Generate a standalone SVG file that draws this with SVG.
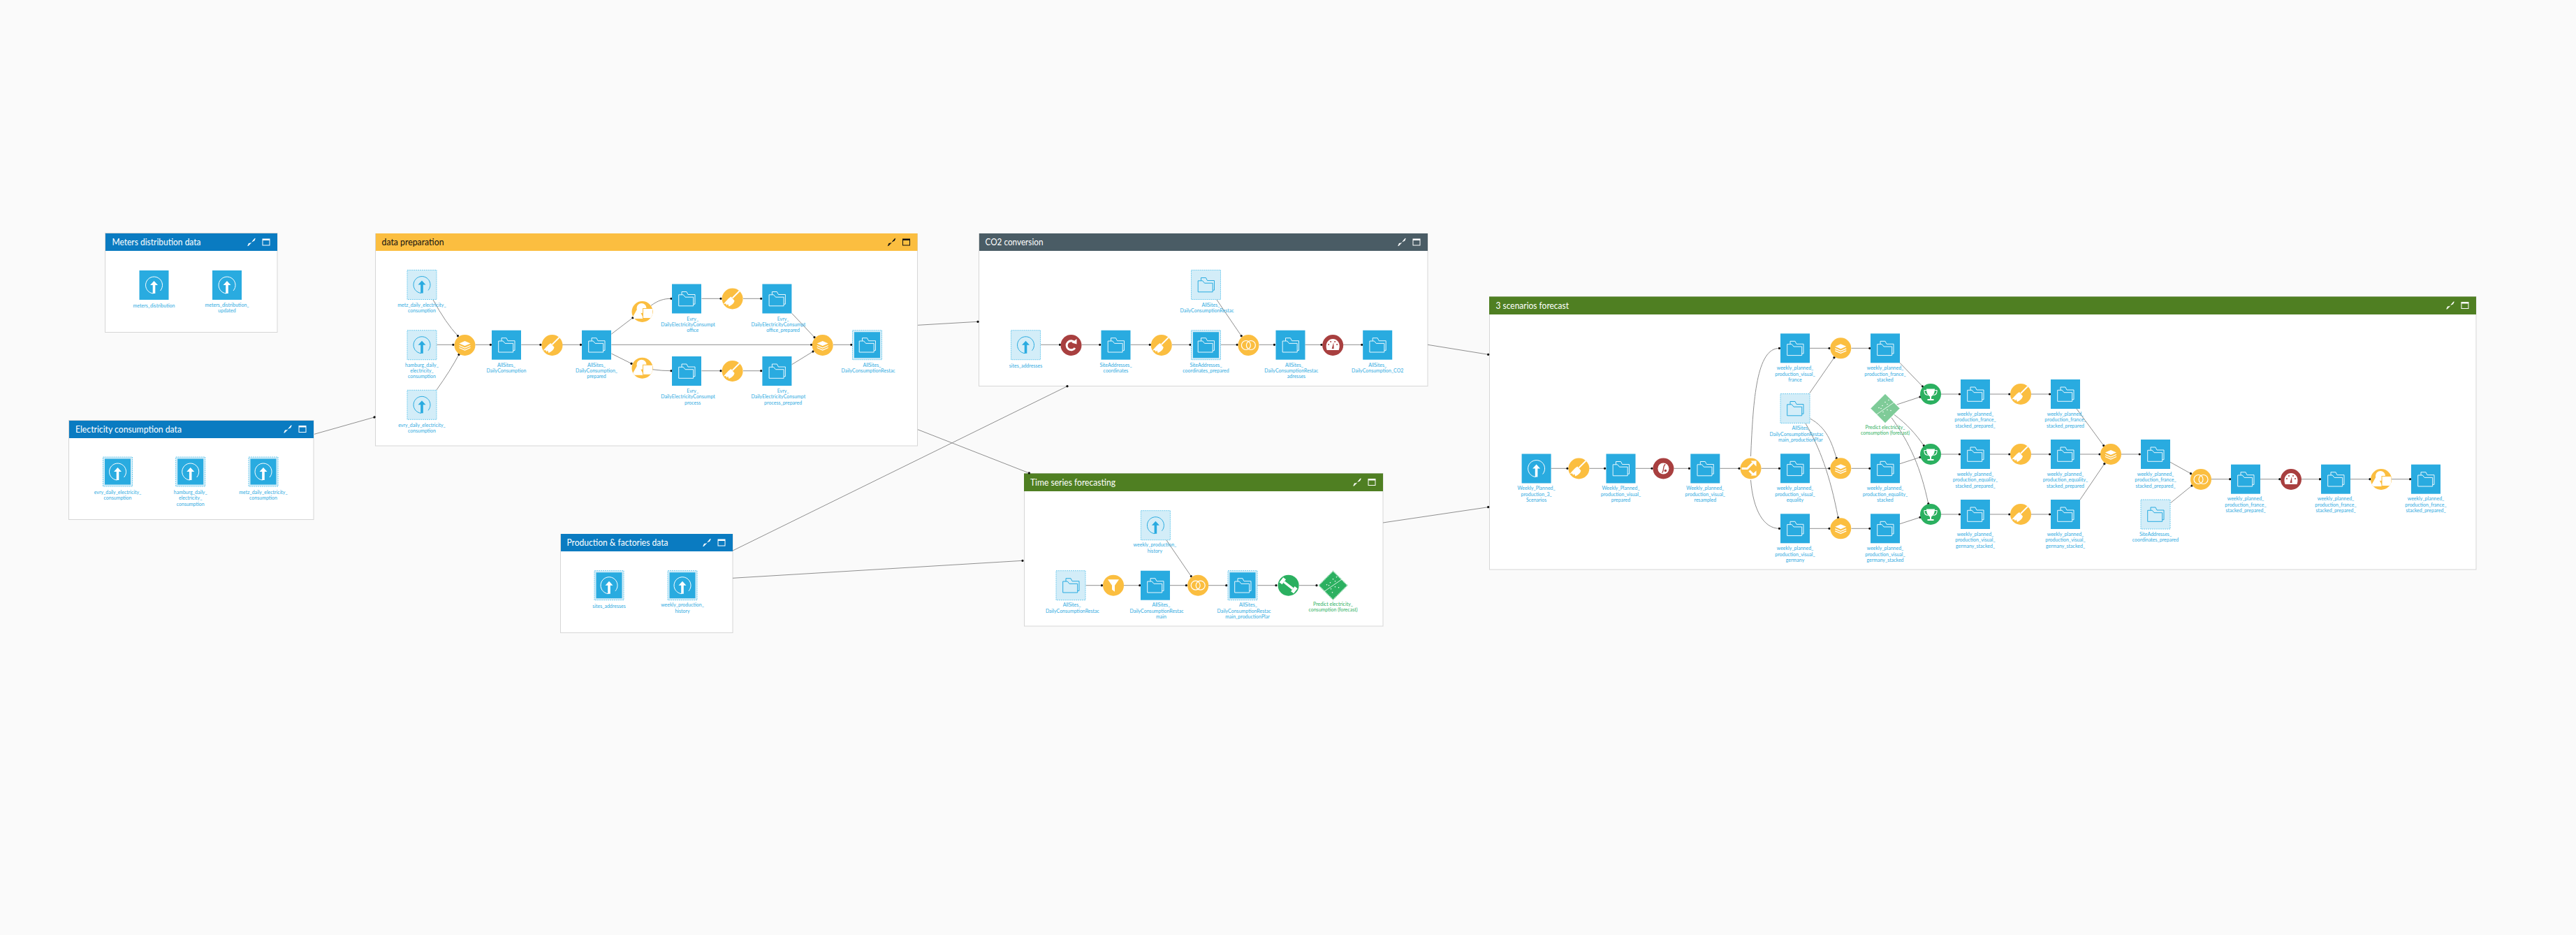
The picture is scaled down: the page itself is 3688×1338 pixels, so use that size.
<svg xmlns="http://www.w3.org/2000/svg" width="3688" height="1338" viewBox="0 0 3688 1338">
<style>
.f{fill:#fff;stroke:#d6d6d6;stroke-width:1}
.t{font:12.6px Lato,"Liberation Sans",sans-serif;fill:#fff}
.k{fill:#111}
.l{font:7px Lato,"Liberation Sans",sans-serif;fill:#2fabdf;text-anchor:middle}
.g{font:7px Lato,"Liberation Sans",sans-serif;fill:#2fb163;text-anchor:middle}
.c{fill:none;stroke:#8f8f8f;stroke-width:1;marker-end:url(#d)}
.o{fill:#fbbe40}.r{fill:#a83f3f}.e{fill:#2bb060}
.s{fill:none;stroke:currentColor;stroke-width:1}
.w{fill:#fff}
</style>
<defs>
<marker id="d" viewBox="-2 -2 4 4" refX="0" refY="0" markerWidth="4" markerHeight="4" markerUnits="userSpaceOnUse" orient="auto"><circle r="1.6" fill="#111"/></marker>
<g id="i-folder" class="s"><path d="M-7 -5.7V-10H0L2 -6H12V7.7H9.7"/><path d="M-11.3 -5.7H-4.7L-2 -2.3H9.7V10.3H-11.3Z"/></g>
<g id="i-upload"><path class="s" stroke-width="1.2" d="M-1 12A12 12 0 1 1 9 8"/><path fill="currentColor" d="M0 -6L5.5 0H1.8V12H-1.8V0H-5.5Z"/></g>
<g id="df"><rect x="-21" y="-21" width="42" height="42" fill="#29abe0"/><use href="#i-folder" color="#e9f7fd"/></g>
<g id="du"><rect x="-21" y="-21" width="42" height="42" fill="#29abe0"/><use href="#i-upload" color="#fff"/></g>
<g id="sframe"><rect x="-21" y="-21" width="42" height="42" fill="#d3edf8" stroke="#74ccee" stroke-dasharray="2 1"/><rect x="-18.5" y="-18.5" width="37" height="37" fill="#29abe0"/></g>
<g id="sf"><use href="#sframe"/><use href="#i-folder" color="#e9f7fd"/></g>
<g id="su"><use href="#sframe"/><use href="#i-upload" color="#fff"/></g>
<g id="lframe"><rect x="-21" y="-21" width="42" height="42" fill="#d3edf8" stroke="#74ccee" stroke-dasharray="2 1"/></g>
<g id="lf"><use href="#lframe"/><use href="#i-folder" color="#29abe0"/></g>
<g id="lu"><use href="#lframe"/><use href="#i-upload" color="#29abe0"/></g>
<g id="r-stack"><circle r="15" class="o"/><path class="w" d="M0 -6L8 -2.5L0 1L-8 -2.5Z"/><path d="M-8 0.5L0 4L8 0.5M-8 3.5L0 7L8 3.5" fill="none" stroke="#fff" stroke-width="1.3"/></g>
<g id="r-broom"><circle r="15" class="o"/><path d="M10 -11L0 -1" stroke="#fff" stroke-width="1.8"/><path class="w" d="M-2 -3L3 3C2 7 -1 9 -5 11L-6.5 7.5L-8 9.5L-9.500 7L-13 7.500C-10 5 -7 0 -2 -3Z"/></g>
<g id="r-join"><circle r="15" class="o"/><g fill="none" stroke="#fff" stroke-width="1.2"><circle cx="-3.500" r="6.500"/><circle cx="3.500" r="6.500"/></g></g>
<g id="r-funnel"><circle r="15" class="o"/><path class="w" d="M-8 -8.500H8L2 0V9L-2 6V0Z"/></g>
<clipPath id="cc"><circle r="15"/></clipPath>
<g id="r-shape"><circle r="15" class="o"/><g clip-path="url(#cc)"><circle cx="-1" cy="-5" r="7" class="w"/><path class="w" d="M-15 10L-6 -6L2 10Z"/><rect x="1" y="-4.500" width="14" height="14" class="w" stroke="#fbbe40" stroke-width="1"/></g></g>
<g id="r-split"><circle r="15" class="o"/><path d="M-13 0H-5L3 -8M-2 3L4 9" fill="none" stroke="#fff" stroke-width="3"/><path class="w" d="M0 -11H8V-3ZM0 10H8V3Z"/></g>
<g id="r-refresh"><circle r="15" class="r"/><path d="M5 -4A6.500 6.500 0 1 0 5.500 4" fill="none" stroke="#fff" stroke-width="3"/><path class="w" d="M1 -3.500L8 -9V-1.500Z"/></g>
<g id="r-gauge"><circle r="15" class="r"/><path class="w" d="M-8.500 7C-12 -3 -6 -9 0 -9S12 -3 8.500 7Z"/><g class="r"><circle cx="-6" cy="-1" r="1"/><circle cx="-3" cy="-5" r="1"/><circle cx="3" cy="-5" r="1"/><circle cx="6" cy="-1" r="1"/><path d="M-1.500 5L1 -4L1.500 5Z"/></g></g>
<g id="r-resample"><circle r="15" class="r"/><circle r="8" class="w"/><path d="M-2 6C1 5 -1 -5 3 -6" fill="none" stroke="#a83f3f" stroke-width="1.300"/><circle cx="3" cy="3" r="1.800" class="r"/></g>
<g id="r-trophy"><circle r="15" class="e"/><path class="w" d="M-6 -7.500H6C6 -2 4 2 1 3.500V7H4.500V9H-4.500V7H-1V3.500C-4 2 -6 -2 -6 -7.500Z"/><path d="M-6 -5.500H-9C-9.500 -1 -7 1 -4 1.500M6 -5.500H9C9.500 -1 7 1 4 1.500" fill="none" stroke="#fff" stroke-width="1.100"/></g>
<g id="r-dumb"><circle r="15" class="e"/><g transform="rotate(38)" class="w"><rect x="-8" y="-1.700" width="16" height="3.400"/><rect x="-13" y="-4.500" width="5" height="9"/><rect x="8" y="-4.500" width="5" height="9"/></g></g>
<g id="m-dots"><path d="M-13 9L13 -9" stroke="#fff" stroke-width="0.800" fill="none"/><g class="w"><circle cx="-9" cy="-1" r=".8"/><circle cx="-4" cy="-4" r=".8"/><circle cx="0" cy="-9" r=".8"/><circle cx="5" cy="-12" r=".8"/><circle cx="3" cy="-6" r=".8"/><circle cx="-3" cy="5" r=".8"/><circle cx="3" cy="2" r=".8"/><circle cx="8" cy="3" r=".8"/><circle cx="-1" cy="10" r=".8"/><circle cx="-6" cy="0" r=".8"/></g></g>
<g id="m-dark"><path d="M0 -20.500L20.500 0L0 20.500L-20.500 0Z" fill="#2bb060" stroke="#a6dfbc" stroke-dasharray="2 1" stroke-width="1.500"/><use href="#m-dots"/></g>
<g id="m-light"><path d="M0 -20.500L20.500 0L0 20.500L-20.500 0Z" fill="#7fcb98" stroke="#a6dfbc" stroke-width="1"/><use href="#m-dots"/></g>
<g id="h-w"><path d="M-5 -5L-1 -1.500M-2.500 1L1.500 -3" fill="none"/><path fill="currentColor" d="M1 -1L6 -6L4 -1.500ZM-1 1L-6 6L-4 1.500Z"/><path fill="currentColor" d="M0.500 -0.500L4.500 -5.500L5.500 -4.500L1 0ZM-0.500 .5L-5.500 5L-4.500 5.500L0 1Z"/><g transform="translate(21,0)"><rect x="-5" y="-4.500" width="10" height="9" fill="none" stroke="currentColor"/><rect x="-5" y="-4.500" width="10" height="2" fill="currentColor"/></g></g>
</defs>
<rect width="3688" height="1338" fill="#fafafa"/>

<g id="frame-meters"><rect class="f" x="150.500" y="333.500" width="246.500" height="142"/><rect x="151" y="334" width="246" height="25" fill="#0a7bc1"/><text class="t" x="160.500" y="351" textLength="127" lengthAdjust="spacingAndGlyphs">Meters distribution data</text><use href="#h-w" x="360" y="346.500" color="#fff"/></g>
<g id="frame-electricity"><rect class="f" x="98.500" y="601.500" width="350.500" height="142"/><rect x="99" y="602" width="350" height="25" fill="#0a7bc1"/><text class="t" x="108" y="619" textLength="152" lengthAdjust="spacingAndGlyphs">Electricity consumption data</text><use href="#h-w" x="412" y="614" color="#fff"/></g>
<g id="frame-prep"><rect class="f" x="537.500" y="334.500" width="776" height="303.500"/><rect x="538" y="334" width="775.500" height="25" fill="#fbbe40"/><text class="t k" x="546.500" y="351" textLength="89" lengthAdjust="spacingAndGlyphs">data preparation</text><use href="#h-w" x="1276.500" y="346.500" color="#111"/></g>
<g id="frame-co2"><rect class="f" x="1401.500" y="334.500" width="642.500" height="218"/><rect x="1402" y="334" width="642" height="25" fill="#4a5c65"/><text class="t" x="1410.500" y="351" textLength="83" lengthAdjust="spacingAndGlyphs">CO2 conversion</text><use href="#h-w" x="2007" y="346.500" color="#fff"/></g>
<g id="frame-production"><rect class="f" x="802.500" y="764.500" width="246.500" height="141"/><rect x="803" y="764" width="246" height="25" fill="#0a7bc1"/><text class="t" x="811.500" y="781" textLength="145" lengthAdjust="spacingAndGlyphs">Production &amp; factories data</text><use href="#h-w" x="1012" y="776.500" color="#fff"/></g>
<g id="frame-ts"><rect class="f" x="1466.500" y="677.500" width="513.500" height="218.500"/><rect x="1466" y="677.500" width="514" height="25.500" fill="#4f7f22"/><text class="t" x="1475" y="695" textLength="122" lengthAdjust="spacingAndGlyphs">Time series forecasting</text><use href="#h-w" x="1943" y="690" color="#fff"/></g>
<g id="frame-scen"><rect class="f" x="2132.500" y="424.500" width="1412.500" height="390.500"/><rect x="2132" y="424.500" width="1413" height="25.500" fill="#4f7f22"/><text class="t" x="2141.500" y="442" textLength="104.500" lengthAdjust="spacingAndGlyphs">3 scenarios forecast</text><use href="#h-w" x="3508" y="437" color="#fff"/></g>

<g id="connectors">
<path class="c" d="M450 621.300L536 597"/>
<path class="c" d="M1314 465.300L1400 460.300"/>
<path class="c" d="M1314 614.700L1473.400 677"/>
<path class="c" d="M1049 788L1528 552.700"/>
<path class="c" d="M1049 827.300L1464 802.300"/>
<path class="c" d="M2044 493.300L2130.700 507.300"/>
<path class="c" d="M1980 748L2130.700 725.700"/>
<path class="c" d="M620 429Q638 462 655.500 480.700"/>
<path class="c" d="M625.400 493.300H648.900"/>
<path class="c" d="M625 558Q645 530 657 507.300"/>
<path class="c" d="M680.500 493.300H702.400"/>
<path class="c" d="M746.300 493.300H773.900"/>
<path class="c" d="M805 493.300H831.500"/>
<path class="c" d="M875.400 478L906 454.700"/>
<path class="c" d="M875.400 506L904 520.300"/>
<path class="c" d="M932 437.300C942 430 950 427.300 961 427.300"/>
<path class="c" d="M934 528.700Q948 530.700 961 530.700"/>
<path class="c" d="M1004.500 427.300H1032"/>
<path class="c" d="M1064 427.300H1089.700"/>
<path class="c" d="M1004.500 530.700H1032"/>
<path class="c" d="M1064 530.700H1089.700"/>
<path class="c" d="M1133.600 448.300L1166 482.700"/>
<path class="c" d="M1133.600 521.700L1164 503"/>
<path class="c" d="M875.400 493.300H1161.600"/>
<path class="c" d="M1193 493.300H1218.800"/>
<path class="c" d="M1742 429L1777.200 480.700"/>
<path class="c" d="M1490 493.300H1517.500"/>
<path class="c" d="M1548.500 493.300H1574.700"/>
<path class="c" d="M1618.500 493.300H1646.300"/>
<path class="c" d="M1678 493.300H1704"/>
<path class="c" d="M1747.500 493.300H1771.200"/>
<path class="c" d="M1802.500 493.300H1824.500"/>
<path class="c" d="M1868.500 493.300H1892"/>
<path class="c" d="M1923 493.300H1949.800"/>
<path class="c" d="M1670 773L1705.300 824.700"/>
<path class="c" d="M1554.500 837.700H1577.500"/>
<path class="c" d="M1609 837.700H1631.800"/>
<path class="c" d="M1675 837.700H1698.400"/>
<path class="c" d="M1730 837.700H1755.800"/>
<path class="c" d="M1800 837.700H1827"/>
<path class="c" d="M1860 837.700H1885"/>
<path class="c" d="M2220.600 670.300H2244"/>
<path class="c" d="M2275.500 670.300H2297.600"/>
<path class="c" d="M2341.500 670.300H2365"/>
<path class="c" d="M2396.500 670.300H2418.500"/>
<path class="c" d="M2462.300 670.300H2490"/>
<path class="c" d="M2521.500 670.300H2547.500"/>
<path class="c" d="M2506.500 653C2510 570 2515 498.300 2547.500 498.300"/>
<path class="c" d="M2506.500 687C2510 730 2525 756.300 2547.500 756.300"/>
<path class="c" d="M2591 498.300H2619"/>
<path class="c" d="M2591 670.300H2619"/>
<path class="c" d="M2591 756.300H2619"/>
<path class="c" d="M2650.500 498.300H2676.800"/>
<path class="c" d="M2650.500 670.300H2676.800"/>
<path class="c" d="M2650.500 756.300H2676.800"/>
<path class="c" d="M2590.700 562.700L2626 511.700"/>
<path class="c" d="M2591.500 599C2615 612 2622 632 2629.300 655.700"/>
<path class="c" d="M2585 606C2605 640 2620 680 2631.600 740.700"/>
<path class="c" d="M2720 519.300L2752.500 553"/>
<path class="c" d="M2715.700 579L2749 568"/>
<path class="c" d="M2711.800 593.300C2730 607 2742 620 2754.300 637.700"/>
<path class="c" d="M2708 597.700C2735 635 2750 670 2760.700 720.700"/>
<path class="c" d="M2720 663.700L2749 654.300"/>
<path class="c" d="M2720 749.700L2749 740.300"/>
<path class="c" d="M2779 564H2805.400"/><path class="c" d="M2849 564H2876.800"/><path class="c" d="M2908 564H2934.600"/>
<path class="c" d="M2779 650H2805.400"/><path class="c" d="M2849 650H2876.800"/><path class="c" d="M2908 650H2934.600"/>
<path class="c" d="M2779 736H2805.400"/><path class="c" d="M2849 736H2876.800"/><path class="c" d="M2908 736H2934.600"/>
<path class="c" d="M2973 585L3011.800 637.700"/>
<path class="c" d="M2978 650H3006"/>
<path class="c" d="M2978 715L3012.900 663.700"/>
<path class="c" d="M3037 650H3063.200"/>
<path class="c" d="M3107 661.300L3136.500 677.700"/>
<path class="c" d="M3107.600 719.700L3138 695"/>
<path class="c" d="M3166 685.700H3192.700"/>
<path class="c" d="M3236 685.700H3263.800"/>
<path class="c" d="M3295 685.700H3321.500"/>
<path class="c" d="M3365 685.700H3393"/>
<path class="c" d="M3424 685.700H3450.600"/>
</g>

<g id="n-meters1" transform="translate(220.500,408)"><use href="#du"/><text class="l" y="32.200">meters_distribution</text></g>
<g id="n-meters2" transform="translate(325,408)"><use href="#du"/><text class="l"><tspan x="0" y="31.200">meters_distribution_</tspan><tspan x="0" y="39.200">updated</tspan></text></g>
<g id="n-evry" transform="translate(168.500,675)"><use href="#su"/><text class="l"><tspan x="0" y="31.500">evry_daily_electricity_</tspan><tspan x="0" y="39.500">consumption</tspan></text></g>
<g id="n-hamburg" transform="translate(272.700,675)"><use href="#su"/><text class="l"><tspan x="0" y="31.500">hamburg_daily_</tspan><tspan x="0" y="39.500">electricity_</tspan><tspan x="0" y="48.500">consumption</tspan></text></g>
<g id="n-metz" transform="translate(377,675)"><use href="#su"/><text class="l"><tspan x="0" y="31.500">metz_daily_electricity_</tspan><tspan x="0" y="39.500">consumption</tspan></text></g>
<g id="n-p-metz" transform="translate(604,407.500)"><use href="#lu"/><text class="l"><tspan x="0" y="31.700">metz_daily_electricity_</tspan><tspan x="0" y="39.700">consumption</tspan></text></g>
<g id="n-p-hamburg" transform="translate(604,493.700)"><use href="#lu"/><text class="l"><tspan x="0" y="31.500">hamburg_daily_</tspan><tspan x="0" y="39.500">electricity_</tspan><tspan x="0" y="47.500">consumption</tspan></text></g>
<g id="n-p-evry" transform="translate(604,579.300)"><use href="#lu"/><text class="l"><tspan x="0" y="31.900">evry_daily_electricity_</tspan><tspan x="0" y="39.900">consumption</tspan></text></g>
<use id="n-p-stack1" href="#r-stack" x="665.500" y="494"/>
<g id="n-p-all" transform="translate(725,493.700)"><use href="#df"/><text class="l"><tspan x="0" y="31.500">AllSites_</tspan><tspan x="0" y="39.500">DailyConsumption</tspan></text></g>
<use id="n-p-broom1" href="#r-broom" x="790.500" y="494"/>
<g id="n-p-prepared" transform="translate(854,493.700)"><use href="#df"/><text class="l"><tspan x="0" y="31.500">AllSites_</tspan><tspan x="0" y="39.500">DailyConsumption_</tspan><tspan x="0" y="47.500">prepared</tspan></text></g>
<use id="n-p-shape1" href="#r-shape" x="919.500" y="446"/>
<use id="n-p-shape2" href="#r-shape" x="919.500" y="526.700"/>
<g id="n-p-office" transform="translate(983,427.500)"><use href="#df"/><text class="l"><tspan x="8.700" y="31">Evry_</tspan><tspan x="2" y="39.500">DailyElectricityConsumpt</tspan><tspan x="8.700" y="47.500">office</tspan></text></g>
<use id="n-p-broom2" href="#r-broom" x="1048.600" y="427.500"/>
<g id="n-p-office2" transform="translate(1112.400,427.500)"><use href="#df"/><text class="l"><tspan x="8.700" y="31">Evry_</tspan><tspan x="2" y="39.500">DailyElectricityConsumpt</tspan><tspan x="8.700" y="47.500">office_prepared</tspan></text></g>
<g id="n-p-process" transform="translate(983,531)"><use href="#df"/><text class="l"><tspan x="8.700" y="31.200">Evry_</tspan><tspan x="2" y="39.200">DailyElectricityConsumpt</tspan><tspan x="8.700" y="48.200">process</tspan></text></g>
<use id="n-p-broom3" href="#r-broom" x="1048.600" y="531"/>
<g id="n-p-process2" transform="translate(1112.400,531)"><use href="#df"/><text class="l"><tspan x="8.700" y="31.200">Evry_</tspan><tspan x="2" y="39.200">DailyElectricityConsumpt</tspan><tspan x="8.700" y="48.200">process_prepared</tspan></text></g>
<use id="n-p-stack2" href="#r-stack" x="1177.700" y="494"/>
<g id="n-p-restac" transform="translate(1241.500,493.700)"><use href="#sf"/><text class="l"><tspan x="7" y="31.500">AllSites_</tspan><tspan x="1.500" y="39.500">DailyConsumptionRestac</tspan></text></g>

<g id="n-c-restac" transform="translate(1726.500,407.500)"><use href="#lf"/><text class="l"><tspan x="7" y="31.700">AllSites_</tspan><tspan x="1.500" y="39.700">DailyConsumptionRestac</tspan></text></g>
<g id="n-c-sites" transform="translate(1468.500,493.700)"><use href="#lu"/><text class="l" y="32.500">sites_addresses</text></g>
<use id="n-c-refresh" href="#r-refresh" x="1533.500" y="494"/>
<g id="n-c-coord" transform="translate(1597.500,493.700)"><use href="#df"/><text class="l"><tspan x="0" y="31.500">SiteAddresses_</tspan><tspan x="0" y="39.500">coordinates</tspan></text></g>
<use id="n-c-broom" href="#r-broom" x="1662.800" y="494"/>
<g id="n-c-coordp" transform="translate(1726.500,493.700)"><use href="#sf"/><text class="l"><tspan x="0" y="31.500">SiteAddresses_</tspan><tspan x="0" y="39.500">coordinates_prepared</tspan></text></g>
<use id="n-c-join" href="#r-join" x="1787.400" y="494"/>
<g id="n-c-adr" transform="translate(1847.500,493.700)"><use href="#df"/><text class="l"><tspan x="5.500" y="31.500">AllSites_</tspan><tspan x="1.300" y="39.500">DailyConsumptionRestac</tspan><tspan x="8.500" y="47.500">adresses</tspan></text></g>
<use id="n-c-gauge" href="#r-gauge" x="1908.200" y="494"/>
<g id="n-c-co2" transform="translate(1972.200,493.700)"><use href="#df"/><text class="l"><tspan x="0" y="31.500">AllSites_</tspan><tspan x="0" y="39.500">DailyConsumption_CO2</tspan></text></g>

<g id="n-f-sites" transform="translate(872,837.700)"><use href="#su"/><text class="l" y="32.500">sites_addresses</text></g>
<g id="n-f-weekly" transform="translate(977,837.700)"><use href="#su"/><text class="l"><tspan x="0" y="30.800">weekly_production_</tspan><tspan x="0" y="39.800">history</tspan></text></g>

<g id="n-t-hist" transform="translate(1654.400,751.700)"><use href="#lu"/><text class="l"><tspan x="-1" y="30.800">weekly_production_</tspan><tspan x="-1" y="39.800">history</tspan></text></g>
<g id="n-t-restac" transform="translate(1533,837.700)"><use href="#lf"/><text class="l"><tspan x="1.600" y="30.500">AllSites_</tspan><tspan x="2.400" y="39.500">DailyConsumptionRestac</tspan></text></g>
<use id="n-t-funnel" href="#r-funnel" x="1594" y="837.700"/>
<g id="n-t-main" transform="translate(1654,837.700)"><use href="#df"/><text class="l"><tspan x="8.400" y="30.500">AllSites_</tspan><tspan x="2" y="39.500">DailyConsumptionRestac</tspan><tspan x="8.400" y="47.500">main</tspan></text></g>
<use id="n-t-join" href="#r-join" x="1715.200" y="837.700"/>
<g id="n-t-plan" transform="translate(1779,837.700)"><use href="#sf"/><text class="l"><tspan x="8" y="30.500">AllSites_</tspan><tspan x="2" y="39.500">DailyConsumptionRestac</tspan><tspan x="7" y="47.500">main_productionPlar</tspan></text></g>
<use id="n-t-dumb" href="#r-dumb" x="1844.600" y="837.700"/>
<g id="n-t-model" transform="translate(1908.500,837.700)"><use href="#m-dark"/><text class="g"><tspan x="0" y="29.500">Predict electricity_</tspan><tspan x="0" y="37.500">consumption (forecast)</tspan></text></g>

<g id="n-s-plan3" transform="translate(2199.600,670.500)"><use href="#du"/><text class="l"><tspan x="0" y="30.700">Weekly_Planned_</tspan><tspan x="0" y="39.700">production_3_</tspan><tspan x="0" y="47.700">Scenarios</tspan></text></g>
<use id="n-s-broom0" href="#r-broom" x="2260.400" y="670.500"/>
<g id="n-s-vis" transform="translate(2320.500,670.500)"><use href="#df"/><text class="l"><tspan x="0" y="30.700">Weekly_Planned_</tspan><tspan x="0" y="39.700">production_visual_</tspan><tspan x="0" y="47.700">prepared</tspan></text></g>
<use id="n-s-res" href="#r-resample" x="2381.400" y="670.500"/>
<g id="n-s-resampled" transform="translate(2441.300,670.500)"><use href="#df"/><text class="l"><tspan x="0" y="30.700">Weekly_planned_</tspan><tspan x="0" y="39.700">production_visual_</tspan><tspan x="0" y="47.700">resampled</tspan></text></g>
<use id="n-s-split" href="#r-split" x="2506.500" y="670.500"/>
<g id="n-s-fr" transform="translate(2570,498.300)"><use href="#df"/><text class="l"><tspan x="0" y="30.900">weekly_planned_</tspan><tspan x="0" y="39.900">production_visual_</tspan><tspan x="0" y="47.900">france</tspan></text></g>
<g id="n-s-main" transform="translate(2570,584.500)"><use href="#lf"/><text class="l"><tspan x="8.500" y="30.700">AllSites_</tspan><tspan x="2" y="39.700">DailyConsumptionRestac</tspan><tspan x="7.700" y="47.700">main_productionPlar</tspan></text></g>
<g id="n-s-eq" transform="translate(2570,670.300)"><use href="#df"/><text class="l"><tspan x="0" y="30.900">weekly_planned_</tspan><tspan x="0" y="39.900">production_visual_</tspan><tspan x="0" y="47.900">equality</tspan></text></g>
<g id="n-s-ge" transform="translate(2570,756.300)"><use href="#df"/><text class="l"><tspan x="0" y="30.900">weekly_planned_</tspan><tspan x="0" y="39.900">production_visual_</tspan><tspan x="0" y="48.200">germany</tspan></text></g>
<use id="n-s-st1" href="#r-stack" x="2635.300" y="498.300"/>
<use id="n-s-st2" href="#r-stack" x="2635.300" y="670.300"/>
<use id="n-s-st3" href="#r-stack" x="2635.300" y="756.300"/>
<g id="n-s-frs" transform="translate(2699,498.300)"><use href="#df"/><text class="l"><tspan x="0" y="30.900">weekly_planned_</tspan><tspan x="0" y="39.900">production_france_</tspan><tspan x="0" y="47.900">stacked</tspan></text></g>
<g id="n-s-model" transform="translate(2699,584.500)"><use href="#m-light"/><text class="g"><tspan x="0" y="29.300">Predict electricity_</tspan><tspan x="0" y="37.700">consumption (forecast)</tspan></text></g>
<g id="n-s-eqs" transform="translate(2699,670.300)"><use href="#df"/><text class="l"><tspan x="0" y="30.900">weekly_planned_</tspan><tspan x="0" y="39.900">production_equality_</tspan><tspan x="0" y="47.900">stacked</tspan></text></g>
<g id="n-s-ges" transform="translate(2699,756.300)"><use href="#df"/><text class="l"><tspan x="0" y="30.900">weekly_planned_</tspan><tspan x="0" y="39.900">production_visual_</tspan><tspan x="0" y="48.200">germany_stacked</tspan></text></g>
<use id="n-s-tr1" href="#r-trophy" x="2764" y="564"/>
<use id="n-s-tr2" href="#r-trophy" x="2764" y="650"/>
<use id="n-s-tr3" href="#r-trophy" x="2764" y="736"/>
<g id="n-s-a1" transform="translate(2828,564)"><use href="#df"/><text class="l"><tspan x="0" y="31.200">weekly_planned_</tspan><tspan x="0" y="39.200">production_france_</tspan><tspan x="0" y="48.200">stacked_prepared_</tspan></text></g>
<g id="n-s-a2" transform="translate(2828,650)"><use href="#df"/><text class="l"><tspan x="0" y="31.200">weekly_planned_</tspan><tspan x="0" y="39.200">production_equality_</tspan><tspan x="0" y="48.200">stacked_prepared_</tspan></text></g>
<g id="n-s-a3" transform="translate(2828,736)"><use href="#df"/><text class="l"><tspan x="0" y="31.200">weekly_planned_</tspan><tspan x="0" y="39.200">production_visual_</tspan><tspan x="0" y="48.200">germany_stacked_</tspan></text></g>
<use id="n-s-br1" href="#r-broom" x="2893" y="564"/>
<use id="n-s-br2" href="#r-broom" x="2893" y="650"/>
<use id="n-s-br3" href="#r-broom" x="2893" y="736"/>
<g id="n-s-b1" transform="translate(2957,564)"><use href="#df"/><text class="l"><tspan x="0" y="31.200">weekly_planned_</tspan><tspan x="0" y="39.200">production_france_</tspan><tspan x="0" y="48.200">stacked_prepared</tspan></text></g>
<g id="n-s-b2" transform="translate(2957,650)"><use href="#df"/><text class="l"><tspan x="0" y="31.200">weekly_planned_</tspan><tspan x="0" y="39.200">production_equality_</tspan><tspan x="0" y="48.200">stacked_prepared</tspan></text></g>
<g id="n-s-b3" transform="translate(2957,736)"><use href="#df"/><text class="l"><tspan x="0" y="31.200">weekly_planned_</tspan><tspan x="0" y="39.200">production_visual_</tspan><tspan x="0" y="48.200">germany_stacked_</tspan></text></g>
<use id="n-s-st4" href="#r-stack" x="3022" y="650"/>
<g id="n-s-c" transform="translate(3086,650)"><use href="#df"/><text class="l"><tspan x="0" y="31.200">weekly_planned_</tspan><tspan x="0" y="39.200">production_france_</tspan><tspan x="0" y="48.200">stacked_prepared_</tspan></text></g>
<g id="n-s-site" transform="translate(3086,736)"><use href="#lf"/><text class="l"><tspan x="0" y="31.200">SiteAddresses_</tspan><tspan x="0" y="39.200">coordinates_prepared</tspan></text></g>
<use id="n-s-join" href="#r-join" x="3151" y="686"/>
<g id="n-s-d" transform="translate(3215,685.700)"><use href="#df"/><text class="l"><tspan x="0" y="30.500">weekly_planned_</tspan><tspan x="0" y="39.500">production_france_</tspan><tspan x="0" y="47.500">stacked_prepared_</tspan></text></g>
<use id="n-s-gauge" href="#r-gauge" x="3280" y="686"/>
<g id="n-s-e" transform="translate(3344,685.700)"><use href="#df"/><text class="l"><tspan x="0" y="30.500">weekly_planned_</tspan><tspan x="0" y="39.500">production_france_</tspan><tspan x="0" y="47.500">stacked_prepared_</tspan></text></g>
<use id="n-s-shape" href="#r-shape" x="3409" y="686"/>
<g id="n-s-f" transform="translate(3473,685.700)"><use href="#df"/><text class="l"><tspan x="0" y="30.500">weekly_planned_</tspan><tspan x="0" y="39.500">production_france_</tspan><tspan x="0" y="47.500">stacked_prepared_</tspan></text></g>
</svg>
